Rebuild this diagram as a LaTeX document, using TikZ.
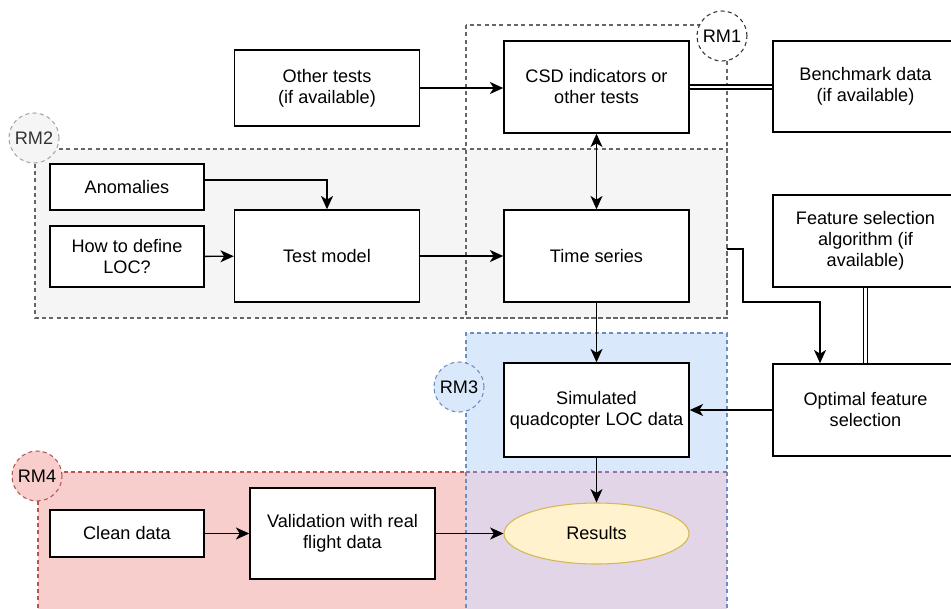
\documentclass[tikz,border=0pt]{standalone}
\usepackage{fontspec}
\setmainfont{Liberation Sans}
\usepackage{xcolor}
\usepackage{tikz}
\usetikzlibrary{arrows.meta, shapes.geometric, positioning}

\definecolor{rmline}{HTML}{666666}
\definecolor{rmtwofill}{HTML}{F5F5F5}
\definecolor{rmthreefill}{HTML}{DAE8FC}
\definecolor{rmthreeline}{HTML}{6C8EBF}
\definecolor{rmfourfill}{HTML}{F8CECC}
\definecolor{rmfourline}{HTML}{B85450}
\definecolor{mixfill}{HTML}{E1D5E7}
\definecolor{mixline}{HTML}{9673A6}
\definecolor{resfill}{HTML}{FFF2CC}
\definecolor{resline}{HTML}{D6B656}

\begin{document}
\begin{tikzpicture}[
    x=0.75pt, y=-0.75pt,
    font=\fontsize{13.6}{15.75}\selectfont,
    block/.style={rectangle, draw, line width=1.1pt, fill=white, minimum width=138.75pt, minimum height=69pt, align=center, inner sep=2pt},
    small/.style={block, minimum width=115.5pt, minimum height=34.5pt},
    region/.style={dash pattern=on 3pt off 2.5pt, line width=0.8pt},
    tag/.style={circle, region, minimum size=37.5pt, inner sep=0pt},
    arrow/.style={-{Stealth[length=10pt, width=9pt, inset=2.8pt]}, line width=1.05pt},
    link/.style={double, double distance=2.2pt, line width=0.8pt}
]
\useasboundingbox (0,0) rectangle (951,608);

% regions
\fill[rmthreefill] (466,333) rectangle (727,615);
\fill[rmfourfill]  (38,472) rectangle (466,615);
\fill[mixfill]     (466,472) rectangle (727,615);
\draw[region, rmthreeline] (466,615) -- (466,333) -- (727,333) -- (727,615);
\draw[region, rmfourline]  (38,615) -- (38,472) -- (466,472);
\draw[region, mixline]     (466,472) -- (727,472);
\draw[region, rmline, fill=rmtwofill] (35,149) rectangle (727,318);
\draw[region, rmline] (466,25) rectangle (727,318);

\node[tag, draw=black!80, fill=white]           (rm1) at (722,36)  {RM1};
\node[tag, draw=gray!70, fill=rmtwofill, text=black!80] (rm2) at (34,138) {RM2};
\node[tag, draw=rmthreeline, fill=rmthreefill]  (rm3) at (459,387) {RM3};
\node[tag, draw=rmfourline, fill=rmfourfill]    (rm4) at (37,476)  {RM4};

% blocks
\node[block, minimum height=57pt]    (other)   at (327,88)      {Other tests\\(if available)};
\node[block]                         (csd)     at (596.5,87)    {CSD indicators or\\other tests};
\node[block, minimum height=68.25pt] (bench)   at (865.5,86.5)  {Benchmark data\\(if available)};
\node[small]                         (anom)    at (127,187)     {Anomalies};
\node[small, minimum height=45.75pt] (howloc)  at (127,256.5)   {How to define\\LOC?};
\node[block]                         (testm)   at (327,256)     {Test model};
\node[block]                         (tseries) at (596.5,256)   {Time series};
\node[block]                         (featsel) at (865.5,241)   {Feature selection\\algorithm (if\\available)};
\node[block]                         (optfs)   at (865.5,410)   {Optimal feature\\selection};
\node[block, minimum height=70.5pt]  (sim)     at (596.5,410)   {Simulated\\quadcopter LOC data};
\node[ellipse, draw=resline, fill=resfill, line width=0.8pt, minimum width=138.75pt, minimum height=45.75pt, inner sep=0pt] (results) at (596.5,533.5) {Results};
\node[small, minimum height=35.25pt] (clean)   at (127,533.5)   {Clean data};
\node[block, minimum height=68.25pt] (valid)   at (342.5,533.5) {Validation with real\\flight data};

\coordinate (rm2out) at (727,249);

% connectors
\draw[arrow] (other.east) -- (csd.west |- other.east);
\draw[link]  (csd.east) -- (bench.west |- csd.east);
\draw[{Stealth[length=10pt, width=9pt, inset=2.8pt]}-{Stealth[length=10pt, width=9pt, inset=2.8pt]}, line width=1.05pt] (csd) -- (tseries);
\draw[arrow] ([yshift=5.25pt]anom.east) -| (testm.north);
\draw[arrow] (howloc) -- (testm);
\draw[arrow] (testm) -- (tseries);
\draw[arrow] (rm2out) -- ++(16,0) -- ++(0,53) -| ([xshift=-34.1pt]optfs.north);
\draw[link]  (featsel) -- (optfs);
\draw[arrow] (optfs) -- (sim);
\draw[arrow] (tseries) -- (sim);
\draw[arrow] (sim) -- (results);
\draw[arrow] (clean) -- (valid);
\draw[arrow] (valid) -- (results);

\end{tikzpicture}
\end{document}
